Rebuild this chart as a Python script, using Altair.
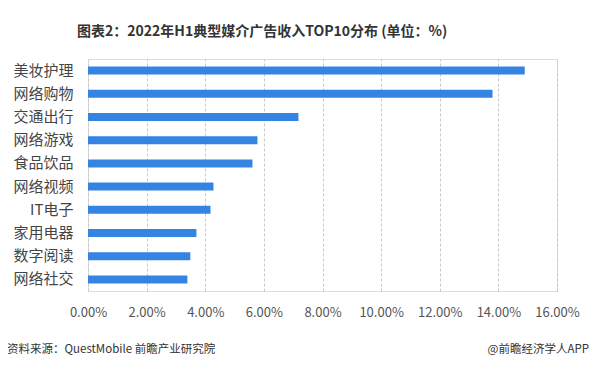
import altair as alt
import pandas as pd

categories = ["美妆护理", "网络购物", "交通出行", "网络游戏", "食品饮品",
              "网络视频", "IT电子", "家用电器", "数字阅读", "网络社交"]
values = [14.90, 13.80, 7.18, 5.78, 5.61, 4.28, 4.18, 3.70, 3.49, 3.39]
x_ticks = [0, 2, 4, 6, 8, 10, 12, 14, 16]

df = pd.DataFrame({"cat": categories, "val": [v / 100 for v in values]})

FONT = "Noto Sans CJK SC"
W, H = 469, 232

bars = alt.Chart(df).mark_bar(color="#3584e4", size=8).encode(
    x=alt.X("val:Q",
            scale=alt.Scale(domain=[0, 0.16], nice=False),
            axis=alt.Axis(values=[t / 100 for t in x_ticks], format=".2%",
                          title=None, domain=False, ticks=False,
                          grid=True, gridColor="#c8c8c8", gridDash=[3, 2],
                          gridWidth=1, labelFontSize=13, labelColor="#555555",
                          labelFont=FONT, labelPadding=15,
                          labelOverlap=False, labelFlush=False)),
    y=alt.Y("cat:N", sort=categories,
            axis=alt.Axis(title=None, domain=False, ticks=False, grid=False,
                          labelFontSize=15, labelColor="#444444",
                          labelFont=FONT, labelPadding=15)),
)

footer_left = alt.Chart(pd.DataFrame({"t": ["资料来源：QuestMobile 前瞻产业研究院"]})).mark_text(
    align="left", baseline="middle", fontSize=11.5, font=FONT, color="#333333"
).encode(text="t:N", x=alt.value(-81), y=alt.value(291))

footer_right = alt.Chart(pd.DataFrame({"t": ["@前瞻经济学人APP"]})).mark_text(
    align="right", baseline="middle", fontSize=11.5, font=FONT, color="#333333"
).encode(text="t:N", x=alt.value(501), y=alt.value(291))

chart = alt.layer(bars, footer_left, footer_right).properties(
    width=W, height=H,
    title=alt.TitleParams("图表2：2022年H1典型媒介广告收入TOP10分布 (单位：%)",
                          anchor="start", frame="group", dx=-11, offset=20,
                          fontSize=14, font=FONT, fontWeight="bold",
                          color="#333333"),
    autosize=alt.AutoSizeParams(type="none"),
    padding={"left": 80, "top": 51, "right": 33, "bottom": 70},
).configure_view(stroke=None).configure(background="white")

chart.save("out.html", embed_options={"renderer": "svg", "actions": False})
